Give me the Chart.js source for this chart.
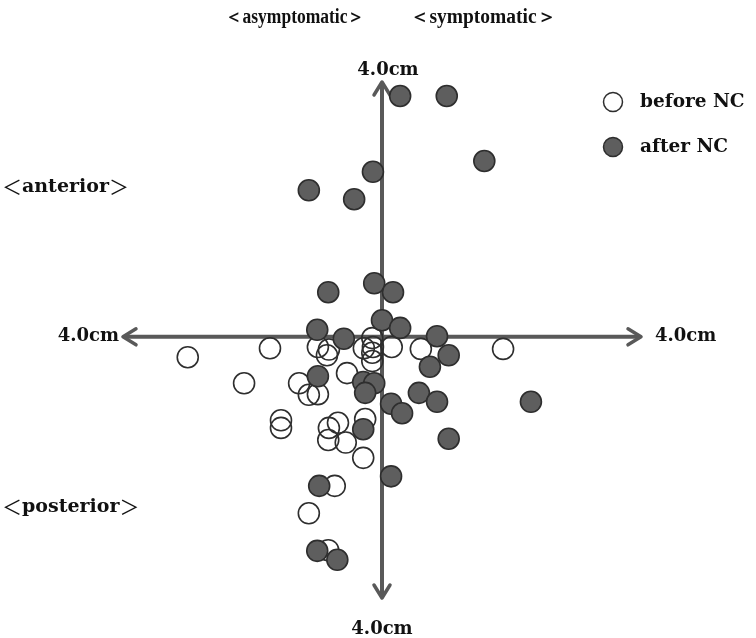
<!DOCTYPE html>
<html>
<head>
<meta charset="utf-8">
<script src="https://cdn.jsdelivr.net/npm/chart.js@4/dist/chart.umd.min.js"></script>
<style>
html,body{margin:0;padding:0;background:#fff;}
#wrap{position:relative;width:756px;height:638px;}
</style>
</head>
<body>
<div id="wrap"><canvas id="c" width="756" height="638"></canvas></div>
<script>
// Displacement (cm): x = asymptomatic(-) / symptomatic(+), y = anterior(+) / posterior(-)
const beforeX = [-3.00,-1.73,-2.13,-1.28,-1.56,-1.56,-0.99,-0.85,-0.82,-0.54,-1.13,-0.99,-0.28,-0.15,-0.14,-0.15,-0.15,0.15,0.60,1.87,-0.82,-0.68,-0.26,-0.83,-0.56,-0.29,-0.73,-1.13,-0.83];
const beforeY = [-0.32,-0.18,-0.73,-0.73,-1.31,-1.43,-0.16,-0.29,-0.20,-0.57,-0.91,-0.90,-0.18,-0.02,-0.16,-0.25,-0.38,-0.16,-0.19,-0.19,-1.43,-1.35,-1.29,-1.62,-1.66,-1.90,-2.34,-2.77,-3.35];
const afterX = [0.28,1.00,1.58,-0.14,-1.13,-0.43,-0.83,-0.12,0.17,0.00,0.28,-1.00,-0.59,0.85,1.03,0.74,-0.99,-0.29,-0.12,-0.26,0.14,0.31,0.57,0.85,2.30,-0.29,0.14,-0.97,-1.00,-0.69,1.03];
const afterY = [3.78,3.78,2.76,2.59,2.30,2.16,0.70,0.84,0.70,0.26,0.14,0.11,-0.03,0.01,-0.29,-0.47,-0.62,-0.71,-0.73,-0.88,-1.05,-1.20,-0.88,-1.02,-1.02,-1.45,-2.19,-2.34,-3.36,-3.50,-1.60];
const seriesNames = ["before NC","after NC"];
const axisEndLabel = "4.0cm";
const axisMax = 4.0;
const sideLabels = {top:["＜asymptomatic＞","＜symptomatic＞"], left:["＜anterior＞","＜posterior＞"]};

const toPts = (xs, ys) => xs.map((x,i)=>({x:x,y:ys[i]}));

const FONT_COND = 'bold 20px "Liberation Serif", serif';
const FONT_WIDE = 'bold 18px "DejaVu Serif", serif';
const FONT_SIDE = 'bold 19px "DejaVu Serif", serif';
const FONT_LEG = 'bold 18.5px "DejaVu Serif", serif';
const AXIS_COLOR = '#595959';
const FILL_DARK = '#5e5e5e';
const EDGE = '#2e2e2e';

function arrowHead(ctx, x, y, dir){
  const L = 13, W = 8;
  ctx.beginPath();
  if(dir==='up'){ ctx.moveTo(x-W,y+L); ctx.lineTo(x,y); ctx.lineTo(x+W,y+L); }
  if(dir==='down'){ ctx.moveTo(x-W,y-L); ctx.lineTo(x,y); ctx.lineTo(x+W,y-L); }
  if(dir==='left'){ ctx.moveTo(x+L,y-W); ctx.lineTo(x,y); ctx.lineTo(x+L,y+W); }
  if(dir==='right'){ ctx.moveTo(x-L,y-W); ctx.lineTo(x,y); ctx.lineTo(x-L,y+W); }
  ctx.stroke();
}

function bracketText(ctx, s, x, y){
  const inner = s.slice(1,-1), lb = s[0], rb = s[s.length-1];
  const bf = '20px "Noto Sans CJK JP", sans-serif';
  ctx.font = bf; const wb = ctx.measureText(lb).width;
  ctx.font = FONT_SIDE; const wi = ctx.measureText(inner).width;
  ctx.textAlign='left';
  ctx.font = bf; ctx.fillText(lb, x, y);
  ctx.font = FONT_SIDE; ctx.fillText(inner, x+wb, y);
  ctx.font = bf; ctx.fillText(rb, x+wb+wi, y);
}

function condText(ctx, s, cx, y, targetW){
  ctx.font = FONT_COND;
  const w = ctx.measureText(s).width;
  const k = Math.min(1, targetW / w);
  ctx.save();
  ctx.translate(cx, y); ctx.scale(k, 1);
  ctx.textAlign='center'; ctx.fillText(s, 0, 0);
  ctx.restore();
}

const axesPlugin = {
  id:'crossAxes',
  beforeDatasetsDraw(chart){
    const ctx = chart.ctx, xs = chart.scales.x, ys = chart.scales.y;
    const x0 = xs.getPixelForValue(0), y0 = ys.getPixelForValue(0);
    const xl = xs.getPixelForValue(-axisMax), xr = xs.getPixelForValue(axisMax);
    const yt = ys.getPixelForValue(axisMax), yb = ys.getPixelForValue(ys.min);
    ctx.save();
    ctx.strokeStyle = AXIS_COLOR; ctx.lineWidth = 4; ctx.lineCap='round'; ctx.lineJoin='round';
    ctx.beginPath(); ctx.moveTo(xl+2,y0); ctx.lineTo(xr-2,y0); ctx.stroke();
    ctx.beginPath(); ctx.moveTo(x0,yt+2); ctx.lineTo(x0,yb-2); ctx.stroke();
    ctx.lineWidth = 3.5;
    arrowHead(ctx,xl,y0,'left'); arrowHead(ctx,xr,y0,'right');
    arrowHead(ctx,x0,yt,'up'); arrowHead(ctx,x0,yb,'down');
    ctx.restore();
  },
  afterDraw(chart){
    const ctx = chart.ctx, xs = chart.scales.x, ys = chart.scales.y;
    const x0 = xs.getPixelForValue(0), y0 = ys.getPixelForValue(0);
    const xl = xs.getPixelForValue(-axisMax), xr = xs.getPixelForValue(axisMax);
    const yt = ys.getPixelForValue(axisMax), yb = ys.getPixelForValue(ys.min);
    ctx.save();
    ctx.fillStyle = '#111'; ctx.font = FONT_WIDE; ctx.textBaseline='middle';
    ctx.textAlign='center';
    ctx.fillText(axisEndLabel, x0+6, yt-12);
    ctx.fillText(axisEndLabel, x0, yb+31);
    ctx.textAlign='right';
    ctx.fillText(axisEndLabel, xl-4, y0);
    ctx.textAlign='left';
    ctx.fillText(axisEndLabel, xr+14, y0);
    // quadrant labels
    condText(ctx, sideLabels.top[0], 295, 18, 140);
    condText(ctx, sideLabels.top[1], 483, 18, 146);
    bracketText(ctx, sideLabels.left[0], 2, 187);
    bracketText(ctx, sideLabels.left[1], 2, 507);
    // legend
    const lx = 613, ly = [102,147];
    ctx.lineWidth = 1.5; ctx.strokeStyle = EDGE;
    ctx.beginPath(); ctx.arc(lx, ly[0], 9.5, 0, Math.PI*2); ctx.fillStyle='#fff'; ctx.fill(); ctx.stroke();
    ctx.beginPath(); ctx.arc(lx, ly[1], 9.5, 0, Math.PI*2); ctx.fillStyle=FILL_DARK; ctx.fill(); ctx.stroke();
    ctx.fillStyle='#111'; ctx.font = FONT_LEG; ctx.textAlign='left';
    ctx.fillText(seriesNames[0], 640, ly[0]);
    ctx.fillText(seriesNames[1], 640, ly[1]);
    ctx.restore();
  }
};

new Chart(document.getElementById('c'), {
  type:'scatter',
  data:{
    datasets:[
      {label:seriesNames[0], data:toPts(beforeX,beforeY), order:2,
       pointRadius:10.5, pointHoverRadius:10.5, pointBackgroundColor:'rgba(255,255,255,0)', pointBorderColor:EDGE, pointBorderWidth:1.6},
      {label:seriesNames[1], data:toPts(afterX,afterY), order:1,
       pointRadius:10.5, pointHoverRadius:10.5, pointBackgroundColor:FILL_DARK, pointBorderColor:EDGE, pointBorderWidth:1.6}
    ]
  },
  options:{
    responsive:false, animation:false,
    layout:{padding:{left:123,right:115,top:82,bottom:40}},
    plugins:{legend:{display:false}, tooltip:{enabled:false}},
    scales:{
      x:{type:'linear', min:-axisMax, max:axisMax, display:false},
      y:{type:'linear', min:-4.1, max:axisMax, display:false}
    }
  },
  plugins:[axesPlugin]
});
</script>
</body>
</html>
